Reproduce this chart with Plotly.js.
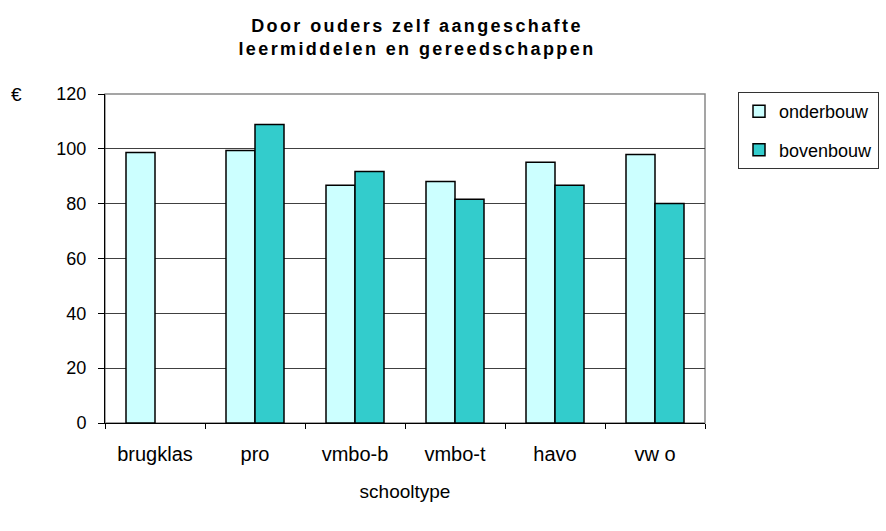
<!DOCTYPE html>
<html>
<head>
<meta charset="utf-8">
<script src="https://cdn.plot.ly/plotly-3.0.1.min.js"></script>
<style>html,body{margin:0;padding:0;background:#fff;}#chart{width:886px;height:531px;}
.gtitle{letter-spacing:2.4px;}</style>
</head>
<body>
<div id="chart"></div>
<script>
const categories = ["brugklas", "pro", "vmbo-b", "vmbo-t", "havo", "vw o"];
const onderbouw = [98.7, 99.4, 86.7, 88.1, 95.1, 97.9];
const bovenbouw = [null, 108.9, 91.7, 81.6, 86.7, 80.1];
const yTicks = [0, 20, 40, 60, 80, 100, 120];

const font = "Arial, 'Liberation Sans', sans-serif";
const data = [
  {type: "bar", name: "onderbouw", x: categories, y: onderbouw, legendgroup: "a",
   marker: {color: "#CCFFFF", line: {color: "#000", width: 1.5}}},
  {type: "bar", name: "bovenbouw", x: categories, y: bovenbouw, legendgroup: "b",
   marker: {color: "#33CCCC", line: {color: "#000", width: 1.5}}}
];
const layout = {
  width: 886, height: 531,
  margin: {l: 105, r: 181, t: 94, b: 108, autoexpand: false},
  paper_bgcolor: "#fff", plot_bgcolor: "#fff",
  barmode: "group", bargap: 0.42, bargroupgap: 0,
  font: {family: font, size: 20, color: "#000"},
  title: {text: "<b>Door ouders zelf aangeschafte<br>leermiddelen en gereedschappen</b>",
          font: {family: font, size: 18, color: "#000"}, xref: "paper", x: 0.52, xanchor: "center",
          y: 0.94, yanchor: "top"},
  xaxis: {type: "category", showgrid: false, showline: true, linecolor: "#000", linewidth: 1,
          ticks: "outside", tickson: "boundaries", ticklen: 5, tickcolor: "#000",
          tickfont: {size: 20}, range: [-0.5, 5.5], ticklabelstandoff: 13,
          title: {text: "schooltype", font: {size: 19}, standoff: 20}},
  yaxis: {range: [0, 120], tickvals: yTicks, showgrid: true, gridcolor: "#404040", gridwidth: 1,
          showline: true, linecolor: "#000", linewidth: 1, ticks: "outside", ticklen: 6,
          tickcolor: "#000", tickfont: {size: 18}, zeroline: false, ticklabelstandoff: 8},
  showlegend: true,
  legend: {x: 1.055, xanchor: "left", y: 1.006, yanchor: "top", bordercolor: "#333", borderwidth: 1,
           font: {size: 18}, bgcolor: "#fff", tracegroupgap: 12, itemwidth: 30, traceorder: "grouped"},
  shapes: [{type: "rect", xref: "paper", yref: "paper", x0: 0, x1: 1, y0: 0, y1: 1,
            line: {color: "#888", width: 1.5}, layer: "below"}],
  annotations: [{text: "€", xref: "paper", yref: "paper", x: -0.148, y: 1.0, xanchor: "center",
                 yanchor: "middle", showarrow: false, font: {size: 19}}]
};
Plotly.newPlot("chart", data, layout, {displayModeBar: false, staticPlot: true});
</script>
</body>
</html>
